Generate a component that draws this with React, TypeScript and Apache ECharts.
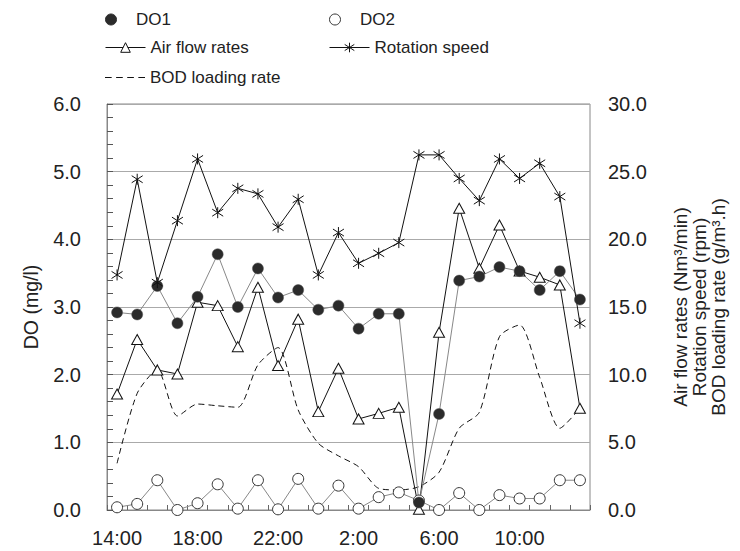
import React, { useEffect, useRef } from "react";
import * as echarts from "echarts";

const hours = [
  "14:00", "15:00", "16:00", "17:00", "18:00", "19:00", "20:00", "21:00",
  "22:00", "23:00", "0:00", "1:00", "2:00", "3:00", "4:00", "5:00",
  "6:00", "7:00", "8:00", "9:00", "10:00", "11:00", "12:00", "13:00",
];

const do1 = [2.92, 2.89, 3.31, 2.76, 3.15, 3.78, 3.0, 3.57, 3.14, 3.25, 2.96, 3.02,
  2.68, 2.9, 2.9, 0.11, 1.42, 3.39, 3.45, 3.59, 3.53, 3.25, 3.53, 3.11];

const do2 = [0.04, 0.09, 0.44, 0.0, 0.1, 0.38, 0.02, 0.44, 0.01, 0.46, 0.02, 0.36,
  0.02, 0.19, 0.26, 0.14, 0.0, 0.25, 0.0, 0.22, 0.17, 0.17, 0.44, 0.44];

const airFlow = [8.57, 12.6, 10.35, 10.05, 15.35, 15.1, 12.07, 16.46, 10.67, 14.1, 7.27, 10.47,
  6.73, 7.14, 7.59, 0.05, 13.13, 22.3, 17.86, 21.06, 17.66, 17.2, 16.63, 7.52];

const rotation = [17.37, 24.44, 16.8, 21.38, 25.94, 21.97, 23.77, 23.36, 20.9, 22.96, 17.37, 20.5,
  18.23, 18.97, 19.76, 26.24, 26.24, 24.5, 22.86, 25.94, 24.5, 25.62, 23.16, 13.8];

const bod = [3.45, 8.62, 10.35, 6.95, 7.83, 7.7, 7.59, 10.72, 12.0, 7.39, 4.93, 4.0,
  3.2, 1.6, 1.48, 1.72, 2.79, 6.04, 7.22, 12.81, 13.67, 9.8, 6.04, 7.52];

const FONT = "'Liberation Sans', Arial, Helvetica, sans-serif";
const INK = "#222";
const ASTERISK = "path://M5 0 L5 10 M0.6 1.8 L9.4 8.2 M0.6 8.2 L9.4 1.8";
const DASHES = "path://M0 0 H6 V1 H0 Z M10 0 H16 V1 H10 Z M20 0 H26 V1 H20 Z M30 0 H36 V1 H30 Z";

const fmt1 = (v: number) => v.toFixed(1);

export default function App() {
  const ref = useRef<HTMLDivElement>(null);

  useEffect(() => {
    if (!ref.current) return;
    const chart = echarts.init(ref.current, null, { renderer: "svg" });

    const legendText = { fontSize: 17, color: INK, fontFamily: FONT };
    const legendBase = {
      orient: "horizontal",
      padding: 0,
      itemWidth: 40,
      selectedMode: false,
      textStyle: legendText,
      symbolKeepAspect: true,
    };

    const option: any = {
      animation: false,
      textStyle: { fontFamily: FONT },
      legend: [
        {
          ...legendBase,
          left: 105, top: 11, itemHeight: 11,
          data: [{ name: "DO1", icon: "circle" }],
          itemStyle: { color: "#2b2b2b", borderColor: "#2b2b2b", borderWidth: 1 },
        },
        {
          ...legendBase,
          left: 329, top: 11, itemHeight: 11,
          data: [{ name: "DO2", icon: "circle" }],
          itemStyle: { color: "#fff", borderColor: "#333", borderWidth: 1 },
        },
        {
          ...legendBase,
          left: 105, top: 39, itemHeight: 12,
          data: ["Air flow rates"],
          itemStyle: { color: "#fff", borderColor: "#111", borderWidth: 1 },
          lineStyle: { color: "#111", width: 1 },
        },
        {
          ...legendBase,
          left: 329, top: 39, itemHeight: 12,
          data: ["Rotation speed"],
          itemStyle: { color: "#111", borderColor: "#111", borderWidth: 1 },
          lineStyle: { color: "#111", width: 1 },
        },
        {
          ...legendBase,
          left: 105, top: 69, itemHeight: 12,
          data: [{ name: "BOD loading rate", icon: DASHES }],
          itemStyle: { color: "#111", borderWidth: 0 },
        },
      ],
      grid: {
        left: 107, right: 150, top: 104, bottom: 41,
        show: true, borderColor: "#888", borderWidth: 1,
      },
      xAxis: {
        type: "category",
        data: hours,
        boundaryGap: true,
        axisLine: { show: true, lineStyle: { color: "#888", width: 1 } },
        axisTick: { show: true, inside: true, length: 5, interval: 0, lineStyle: { color: "#666" } },
        axisLabel: { interval: 3, margin: 18, fontSize: 20, color: INK, fontFamily: FONT },
        splitLine: { show: false },
      },
      yAxis: [
        {
          type: "value",
          min: 0, max: 6, interval: 1,
          position: "left",
          name: "DO (mg/l)",
          nameLocation: "middle",
          nameRotate: 90,
          nameGap: 66,
          nameTextStyle: { fontSize: 19.5, color: INK, fontFamily: FONT },
          axisLine: { show: true, lineStyle: { color: "#888", width: 1 } },
          axisTick: { show: true, inside: true, length: 6, lineStyle: { color: "#555" } },
          minorTick: { show: true, splitNumber: 5, length: 6, lineStyle: { color: "#555" } },
          axisLabel: { formatter: fmt1, margin: 26, fontSize: 20, color: INK, fontFamily: FONT },
          splitLine: { show: true, lineStyle: { color: "#aaa", width: 1 } },
        },
        {
          type: "value",
          min: 0, max: 30, interval: 5,
          position: "right",
          name: "Air flow rates (Nm³/min)\nRotation speed (rpm)\nBOD loading rate (g/m³.h)",
          nameLocation: "middle",
          nameRotate: 90,
          nameGap: 81,
          nameTextStyle: { fontSize: 19, lineHeight: 19, color: INK, fontFamily: FONT, align: "center" },
          axisLine: { show: false },
          axisTick: { show: false },
          axisLabel: { formatter: fmt1, margin: 18, fontSize: 20, color: INK, fontFamily: FONT },
          splitLine: { show: false },
        },
      ],
      series: [
        {
          name: "BOD loading rate",
          type: "line",
          yAxisIndex: 1,
          data: bod,
          smooth: 0.25,
          symbol: "none",
          lineStyle: { color: "#111", width: 1, type: [6, 4] },
          itemStyle: { color: "#111" },
        },
        {
          name: "Air flow rates",
          type: "line",
          yAxisIndex: 1,
          data: airFlow,
          symbol: "triangle",
          symbolSize: [11, 10],
          lineStyle: { color: "#111", width: 1 },
          itemStyle: { color: "#fff", borderColor: "#111", borderWidth: 1 },
        },
        {
          name: "DO2",
          type: "line",
          yAxisIndex: 0,
          data: do2,
          symbol: "circle",
          symbolSize: 11,
          lineStyle: { color: "#888", width: 1 },
          itemStyle: { color: "#fff", borderColor: "#333", borderWidth: 1 },
        },
        {
          name: "DO1",
          type: "line",
          yAxisIndex: 0,
          data: do1,
          symbol: "circle",
          symbolSize: 11,
          lineStyle: { color: "#888", width: 1 },
          itemStyle: { color: "#2b2b2b", borderColor: "#555", borderWidth: 0.5 },
        },
        {
          name: "Rotation speed",
          type: "line",
          yAxisIndex: 1,
          data: rotation,
          symbol: ASTERISK,
          symbolSize: 11,
          lineStyle: { color: "#111", width: 1 },
          itemStyle: { color: "#111", borderColor: "#111", borderWidth: 1 },
        },
      ],
    };

    chart.setOption(option);
    return () => chart.dispose();
  }, []);

  return (
    <div
      ref={ref}
      style={{ position: "absolute", left: 0, top: 0, width: 740, height: 551, background: "#fff" }}
    />
  );
}
